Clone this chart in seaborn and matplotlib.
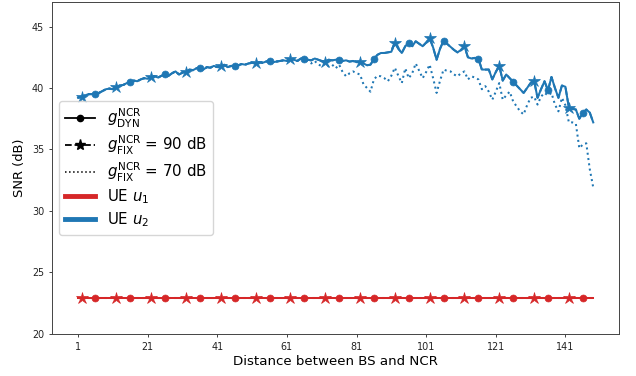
import numpy as np
import pandas as pd
import matplotlib
matplotlib.use("Agg")
import matplotlib.pyplot as plt
from matplotlib.lines import Line2D
import seaborn as sns

# ---------------- data ----------------
distance = list(range(1, 150))

snr_u1 = [22.9] * 149

snr_u2_dyn = [
    39.2, 39.3, 39.4, 39.5, 39.5, 39.55, 39.6, 39.75, 39.9, 39.95,
    39.9, 40.1, 40.2, 40.25, 40.4, 40.5, 40.6, 40.55, 40.7, 40.8,
    40.75, 40.9, 40.95, 40.85, 41.0, 41.1, 41.0, 41.2, 41.35, 41.1,
    41.25, 41.3, 41.5, 41.45, 41.6, 41.65, 41.5, 41.7, 41.65, 41.8,
    41.7, 41.75, 41.9, 41.7, 41.8, 41.75, 41.85, 41.95, 41.9, 42.0,
    42.05, 42.0, 42.1, 42.05, 42.15, 42.2, 42.1, 42.15, 42.2, 42.25,
    42.2, 42.35, 42.3, 42.2, 42.4, 42.35, 42.3, 42.25, 42.4, 42.3,
    42.2, 42.15, 42.3, 42.25, 42.3, 42.3, 42.2, 42.25, 42.15, 42.2,
    42.1, 42.15, 42.0, 41.85, 41.9, 42.35, 42.7, 42.85, 42.85, 42.9,
    42.95, 43.7, 43.2, 42.85, 43.4, 43.7, 43.4, 43.8, 43.6, 43.4,
    43.7, 44.05, 43.3, 42.3, 43.2, 43.85, 43.6, 43.35, 43.1, 42.9,
    43.1, 43.4, 42.5, 42.4, 42.45, 42.4, 41.5, 41.5, 41.5, 40.7,
    41.3, 41.8, 40.6, 41.1, 40.8, 40.5, 40.2, 39.9, 39.6, 40.0,
    40.4, 40.6, 39.2, 39.9, 40.55, 39.8, 40.9, 40.0, 39.2, 40.2,
    40.1, 38.4, 38.3, 38.25, 37.5, 37.95, 38.25, 38.0, 37.2,
]

snr_u2_fix90 = list(snr_u2_dyn)

snr_u2_fix70 = snr_u2_dyn[:66] + [
    42.2, 42.0, 42.2, 41.9, 41.8, 42.0, 41.75, 41.9, 41.6, 41.9,
    41.3, 40.95, 41.2, 41.35, 41.2, 41.1, 40.3, 40.0, 39.7, 40.7,
    41.0, 40.95, 40.8, 40.55, 41.0, 41.65, 41.0, 40.4, 41.6, 40.8,
    41.2, 42.0, 41.4, 40.8, 41.3, 41.9, 40.8, 39.6, 40.6, 41.5,
    41.4, 41.35, 41.1, 40.95, 41.2, 41.35, 40.7, 40.95, 40.85, 40.7,
    39.9, 40.15, 39.7, 39.05, 39.7, 40.4, 39.05, 39.4, 39.7, 38.9,
    38.5, 38.1, 37.85, 38.6, 39.2, 39.3, 38.65, 39.3, 39.6, 39.4,
    39.6, 38.65, 38.1, 39.2, 38.6, 37.2, 37.2, 37.1, 35.1, 35.4,
    35.5, 33.4, 31.9,
]

x_ticks = [1, 21, 41, 61, 81, 101, 121, 141]
y_ticks = [20, 25, 30, 35, 40, 45]

RED = "#d62728"
BLUE = "#1f77b4"

# ---------------- figure ----------------
fig = plt.figure(figsize=(6.36, 3.76), dpi=100)
ax = fig.add_axes([52.3 / 636, 1 - 333.7 / 376, (619 - 52.3) / 636, (333.7 - 2) / 376])

lw = 1.45
ms_star = 9
ms_dot = 5


def draw(y, color, ls, marker=None, me=None, ms=None, alpha=1.0):
    kw = dict(x=distance, y=y, color=color, linestyle=ls, linewidth=lw, ax=ax,
              legend=False, alpha=alpha)
    if marker is not None:
        kw.update(marker=marker, markevery=me, markersize=ms,
                  markeredgecolor=color, markerfacecolor=color, markeredgewidth=0.5)
    sns.lineplot(**kw)


for col, dyn, f90, f70 in [(RED, snr_u1, snr_u1, snr_u1),
                           (BLUE, snr_u2_dyn, snr_u2_fix90, snr_u2_fix70)]:
    draw(f70, col, ":")
    draw(f90, col, "--", "*", (1, 10), ms_star)
    draw(dyn, col, "-", "o", (5, 10), ms_dot)

ax.set_xlim(-6.4, 156.4)
ax.set_ylim(20, 47)
ax.set_xticks(x_ticks)
ax.set_yticks(y_ticks)
ax.tick_params(labelsize=6.9, length=2.4, width=0.6, colors="#222222")
for s in ax.spines.values():
    s.set_linewidth(0.7)
    s.set_color("#444444")

ax.set_xlabel("Distance between BS and NCR", fontsize=9.6, labelpad=2)
ax.set_ylabel("SNR (dB)", fontsize=9.4, labelpad=4)

handles = [
    Line2D([], [], color="black", linestyle="-", marker="o", markersize=4.5, linewidth=1.3),
    Line2D([], [], color="black", linestyle="--", marker="*", markersize=8, linewidth=1.3),
    Line2D([], [], color="black", linestyle=":", linewidth=1.1),
    Line2D([], [], color=RED, linewidth=3.5),
    Line2D([], [], color=BLUE, linewidth=3.5),
]
labels = [
    r"$g_{\mathrm{DYN}}^{\mathrm{NCR}}$",
    r"$g_{\mathrm{FIX}}^{\mathrm{NCR}}$ = 90 dB",
    r"$g_{\mathrm{FIX}}^{\mathrm{NCR}}$ = 70 dB",
    r"UE $u_1$",
    r"UE $u_2$",
]
ax.legend(handles, labels, loc="center left", fontsize=10.8, borderaxespad=0.45,
          handlelength=2.0, labelspacing=0.25, handletextpad=0.8, borderpad=0.4)

fig.savefig("out.png", dpi=100)
